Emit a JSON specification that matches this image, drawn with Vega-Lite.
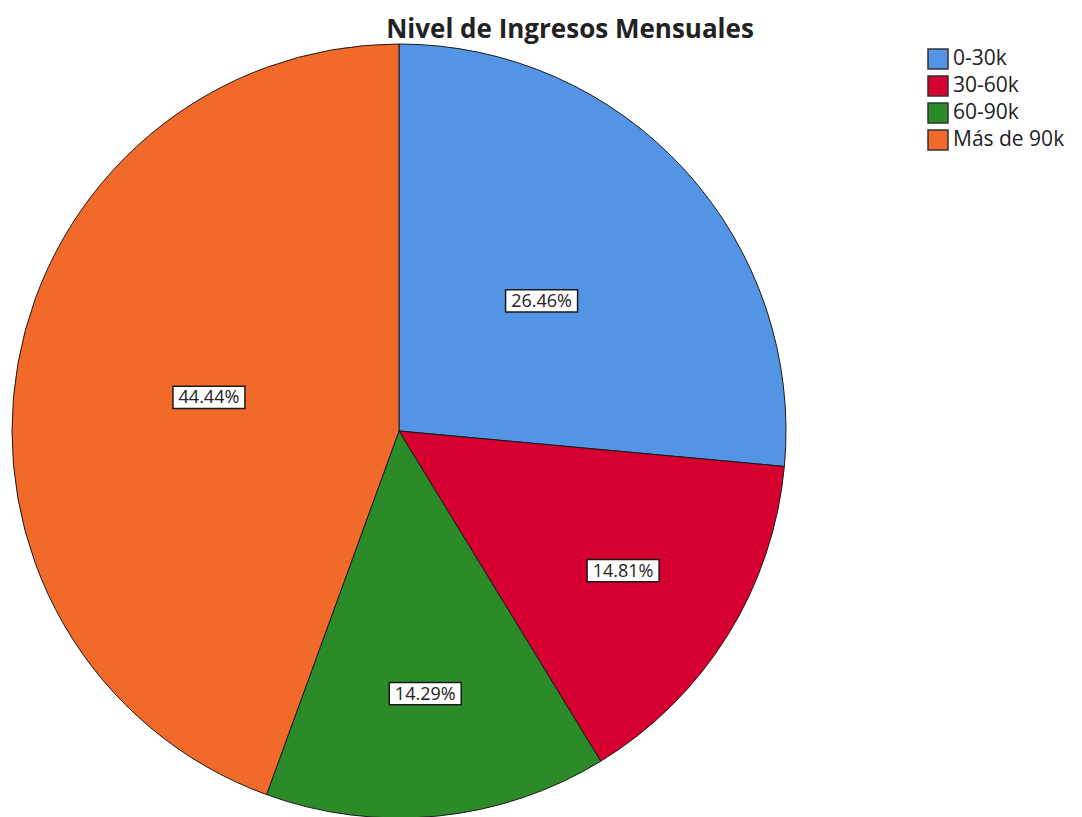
{
  "$schema": "https://vega.github.io/schema/vega-lite/v6.json",
  "width": 774,
  "height": 774,
  "autosize": {"type": "none"},
  "padding": {"left": 12, "top": 44, "right": 296, "bottom": 0},
  "background": "white",
  "title": {
    "text": "Nivel de Ingresos Mensuales",
    "anchor": "middle",
    "frame": "group",
    "dx": 171,
    "dy": 32,
    "offset": 5,
    "baseline": "bottom",
    "fontSize": 26,
    "font": "Open Sans",
    "fontWeight": "bold",
    "color": "#222222"
  },
  "data": {
    "values": [
      {"rango": "0-30k", "pct": 26.46, "orden": 1},
      {"rango": "30-60k", "pct": 14.81, "orden": 2},
      {"rango": "60-90k", "pct": 14.29, "orden": 3},
      {"rango": "Más de 90k", "pct": 44.44, "orden": 4}
    ]
  },
  "layer": [
    {
      "mark": {"type": "arc", "stroke": "#1a1a1a", "strokeWidth": 1},
      "encoding": {
        "theta": {"field": "pct", "type": "quantitative", "stack": true},
        "order": {"field": "orden", "type": "quantitative"},
        "color": {
          "field": "rango",
          "type": "nominal",
          "scale": {
            "domain": ["0-30k", "30-60k", "60-90k", "Más de 90k"],
            "range": ["#5494E4", "#D5002F", "#2B8B29", "#F26A29"]
          },
          "legend": {
            "title": null,
            "orient": "right",
            "offset": 137,
            "padding": 4,
            "symbolType": "square",
            "symbolSize": 400,
            "symbolStrokeColor": "#333333",
            "symbolStrokeWidth": 1.5,
            "symbolOpacity": 1,
            "labelFont": "Open Sans",
            "labelFontSize": 21,
            "labelColor": "#222222",
            "labelOffset": 4,
            "rowPadding": 1
          }
        }
      }
    },
    {
      "transform": [
        {"window": [{"op": "sum", "field": "pct", "as": "cum"}], "sort": [{"field": "orden", "order": "ascending"}], "frame": [null, 0]},
        {"calculate": "(datum.cum - datum.pct / 2) / 100 * 2 * PI", "as": "mid"},
        {"calculate": "datum.pct > 20 ? 193 : 264", "as": "r"},
        {"calculate": "datum.r * sin(datum.mid)", "as": "lx"},
        {"calculate": "datum.r * cos(datum.mid)", "as": "ly"}
      ],
      "mark": {
        "type": "point",
        "shape": "M-1,-0.31H1V0.31H-1Z",
        "size": 5184,
        "filled": true,
        "fill": "white",
        "stroke": "#1a1a1a",
        "strokeWidth": 1.5,
        "opacity": 1
      },
      "encoding": {
        "x": {"field": "lx", "type": "quantitative", "scale": {"domain": [-387, 387], "nice": false, "zero": false}, "axis": null},
        "y": {"field": "ly", "type": "quantitative", "scale": {"domain": [-387, 387], "nice": false, "zero": false}, "axis": null}
      }
    },
    {
      "transform": [
        {"window": [{"op": "sum", "field": "pct", "as": "cum"}], "sort": [{"field": "orden", "order": "ascending"}], "frame": [null, 0]},
        {"calculate": "(datum.cum - datum.pct / 2) / 100 * 2 * PI", "as": "mid"},
        {"calculate": "datum.pct > 20 ? 193 : 264", "as": "r"},
        {"calculate": "datum.r * sin(datum.mid)", "as": "lx"},
        {"calculate": "datum.r * cos(datum.mid)", "as": "ly"},
        {"calculate": "format(datum.pct, '.2f') + '%'", "as": "etiqueta"}
      ],
      "mark": {"type": "text", "font": "Open Sans", "fontSize": 18, "color": "#222222", "align": "center", "baseline": "middle", "dy": 1},
      "encoding": {
        "x": {"field": "lx", "type": "quantitative", "scale": {"domain": [-387, 387], "nice": false, "zero": false}, "axis": null},
        "y": {"field": "ly", "type": "quantitative", "scale": {"domain": [-387, 387], "nice": false, "zero": false}, "axis": null},
        "text": {"field": "etiqueta", "type": "nominal"}
      }
    }
  ],
  "config": {"view": {"stroke": null}}
}
